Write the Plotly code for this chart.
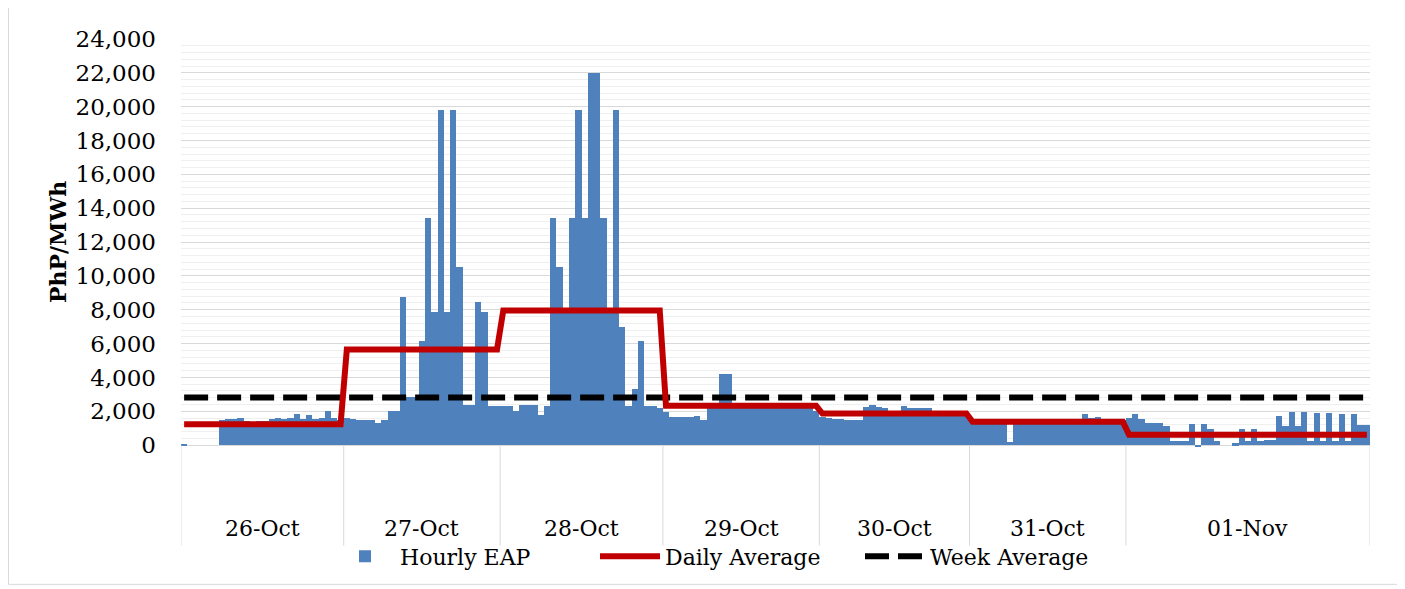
import plotly.graph_objects as go

# ---------------- data ----------------
days = ["26-Oct", "27-Oct", "28-Oct", "29-Oct", "30-Oct", "31-Oct", "01-Nov"]
hours_per_day = [26, 25, 26, 25, 24, 25, 39]

eap_26oct = [80, 0, 0, 0, 0, 0, 1470, 1530, 1530, 1610, 1400, 1380, 1420, 1400,
             1530, 1610, 1530, 1610, 1865, 1530, 1790, 1530, 1610, 2025, 1610, 1500]
eap_27oct = [1610, 1560, 1470, 1470, 1470, 1335, 1470, 2000, 2000, 8735, 2850, 2850,
             6180, 13440, 7860, 19820, 7860, 19820, 10500, 2395, 2395, 8480, 7860,
             2330, 2300]
eap_28oct = [2330, 2330, 2025, 2355, 2355, 2355, 1765, 2330, 13440, 10500, 7900,
             13440, 19820, 13440, 21980, 21980, 13440, 7900, 19820, 7000, 2320, 3300,
             6180, 2320, 2320, 2180]
eap_29oct = [1960, 1670, 1670, 1670, 1670, 1700, 1470, 2200, 2200, 4220, 4220, 2350,
             2380, 2400, 2360, 2340, 2390, 2370, 2350, 2330, 2360, 2380, 2340, 2300,
             2000]
eap_30oct = [1670, 1600, 1570, 1570, 1470, 1470, 1470, 2260, 2360, 2260, 2200, 2000,
             2000, 2320, 2200, 2200, 2200, 2200, 1850, 1800, 1800, 1800, 1800, 1800]
eap_31oct = [1500, 1450, 1450, 1450, 1450, 1450, 200, 1450, 1420, 1440, 1460, 1450,
             1430, 1450, 1440, 1450, 1460, 1450, 1810, 1610, 1670, 1500, 1500, 1500,
             1500]
eap_01nov = [1610, 1810, 1570, 1320, 1320, 1280, 1140, 250, 250, 250, 1220, -120,
             1220, 980, 250, 0, 0, 100, 980, 250, 980, 250, 300, 300, 1750, 1150,
             1960, 1150, 1960, 250, 1870, 250, 1870, 250, 1850, 250, 1810, 1180, 1180]

daily_average = [1230, 5650, 7950, 2320, 1865, 1375, 620]
week_average = 2810

y_ticks = [0, 2000, 4000, 6000, 8000, 10000, 12000, 14000, 16000, 18000, 20000,
           22000, 24000]

# ---------------- build series ----------------
hourly_eap = eap_26oct + eap_27oct + eap_28oct + eap_29oct + eap_30oct + eap_31oct + eap_01nov
n = len(hourly_eap)
x = list(range(n))
daily_line = []
for avg, cnt in zip(daily_average, hours_per_day):
    daily_line += [avg] * cnt
week_line = [week_average] * n

bounds = [0]
for cnt in hours_per_day:
    bounds.append(bounds[-1] + cnt)

FONT = "DejaVu Serif"

fig = go.Figure()
fig.add_trace(go.Bar(x=x, y=hourly_eap, name="Hourly EAP",
                     marker=dict(color="#4F81BD", line=dict(width=0)),
                     legendrank=1))
fig.add_trace(go.Scatter(x=x, y=week_line, mode="lines", name="Week Average",
                         line=dict(color="black", width=6, dash="24px,9px"),
                         legendrank=3))
fig.add_trace(go.Scatter(x=x, y=daily_line, mode="lines", name="Daily Average",
                         line=dict(color="#C00000", width=6),
                         legendrank=2))

# page has an 8px body margin: page pixel p -> figure pixel p - OFF
OFF = 8
W, H = 1405 - OFF, 589 - OFF
L = 181 - OFF
T = 39 - OFF
R = W - (1370 - OFF)
B = H - (450 - OFF)
plot_w = W - L - R
plot_h = H - T - B
ymin, ymax = -170, 24000


def py(page_pix):
    """page pixel row -> paper y"""
    return (H - B - (page_pix - OFF)) / plot_h


def px(page_pix):
    return (page_pix - OFF - L) / plot_w


zero_paper = (0 - ymin) / (ymax - ymin)

border = dict(color="#D9D9D9", width=1)
shapes = []
for b in bounds:
    shapes.append(dict(type="line", xref="x", yref="paper", x0=b - 0.5, x1=b - 0.5,
                       y0=py(548), y1=zero_paper, line=border))
# chart-area frame (left, right, bottom)
shapes.append(dict(type="line", xref="paper", yref="paper", x0=px(8.5), x1=px(8.5),
                   y0=py(587), y1=py(8), line=border))
shapes.append(dict(type="line", xref="paper", yref="paper", x0=px(1399), x1=px(1399),
                   y0=py(587), y1=py(8), line=border))
shapes.append(dict(type="line", xref="paper", yref="paper", x0=px(8.5), x1=px(1399),
                   y0=py(587), y1=py(587), line=border))

annotations = []
for d, s, cnt in zip(days, bounds[:-1], hours_per_day):
    annotations.append(dict(x=s + cnt / 2 - 0.5, xref="x", y=py(531), yref="paper",
                            text=d, showarrow=False, xanchor="center", yanchor="middle",
                            font=dict(family=FONT, size=22, color="black")))
annotations.append(dict(x=px(58), xref="paper", y=py(243), yref="paper",
                        text="<b>PhP/MWh</b>", textangle=-90, showarrow=False,
                        xanchor="center", yanchor="middle",
                        font=dict(family=FONT, size=22, color="black")))

fig.update_layout(
    width=W, height=H,
    margin=dict(l=L, r=R, t=T, b=B, pad=0),
    paper_bgcolor="white", plot_bgcolor="white",
    bargap=0,
    showlegend=True,
    legend=dict(orientation="h", x=px(330), xanchor="left", y=py(559),
                yanchor="middle", font=dict(family=FONT, size=22, color="black"),
                traceorder="normal", itemwidth=60, entrywidth=190,
                bgcolor="rgba(0,0,0,0)"),
    shapes=shapes,
    annotations=annotations,
    font=dict(family=FONT, color="black"),
)
fig.update_xaxes(range=[-0.5, n - 0.5], showgrid=False, showticklabels=False,
                 zeroline=False, showline=False, ticks="")
fig.update_yaxes(range=[ymin, ymax], tickvals=y_ticks, tickformat=",",
                 showgrid=True, gridcolor="#D9D9D9", gridwidth=1,
                 minor=dict(dtick=400, tick0=0, showgrid=True, gridcolor="#EFEFEF",
                            gridwidth=1),
                 zeroline=True, zerolinecolor="#D9D9D9", zerolinewidth=1,
                 showline=False, ticks="", ticklabelstandoff=24,
                 tickfont=dict(family=FONT, size=23, color="black"))

fig.write_html("out.html")
